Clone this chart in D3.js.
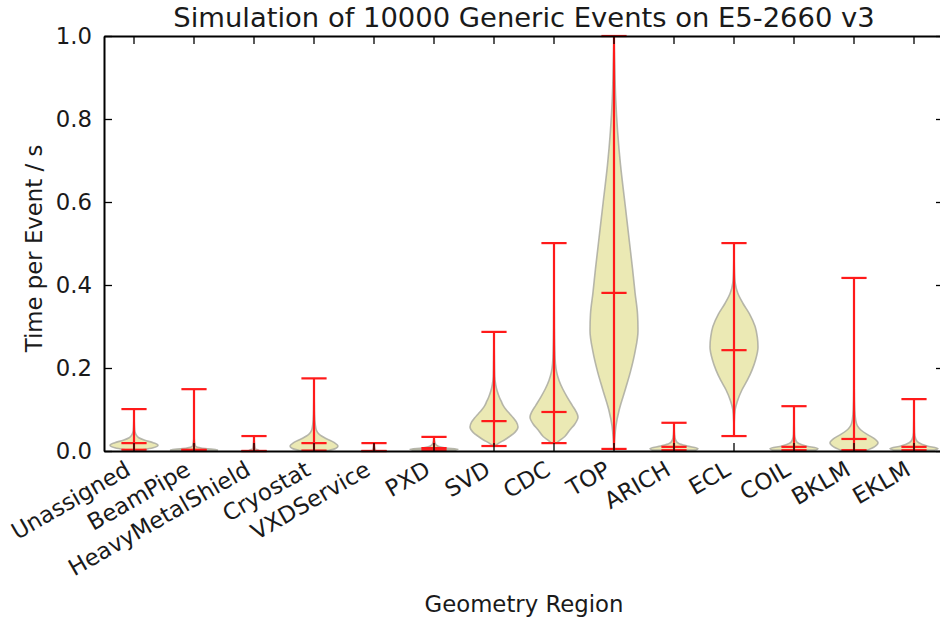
<!DOCTYPE html>
<html>
<head>
<meta charset="utf-8">
<script src="https://cdn.jsdelivr.net/npm/d3@7"></script>
<style>
  html, body { margin: 0; padding: 0; background: #fff; }
  svg { display: block; font-family: "DejaVu Sans", sans-serif; }
</style>
</head>
<body>
<svg id="chart" width="940" height="623"></svg>
<script>
// Geometry regions along the x axis
const categories = ["Unassigned", "BeamPipe", "HeavyMetalShield", "Cryostat", "VXDService", "PXD",
  "SVD", "CDC", "TOP", "ARICH", "ECL", "COIL", "BKLM", "EKLM"];

// Per-region time per event (s): extremes and middle marker
const minTimes    = [0.003, 0.002, 0.000, 0.001, 0.000, 0.002, 0.012, 0.019, 0.005, 0.002, 0.036, 0.002, 0.002, 0.002];
const medianTimes = [0.019, 0.003, 0.000, 0.019, 0.000, 0.007, 0.072, 0.094, 0.381, 0.010, 0.243, 0.010, 0.029, 0.010];
const maxTimes    = [0.101, 0.149, 0.036, 0.175, 0.019, 0.034, 0.287, 0.501, 1.000, 0.068, 0.501, 0.108, 0.417, 0.125];

// Density outline of each violin: [time, relative half-width]
const profiles = [
  [[0.003,0.35],[0.008,0.8],[0.014,1],[0.02,0.8],[0.026,0.45],[0.032,0.2],[0.04,0.08],[0.05,0.03],[0.07,0.01],[0.101,0]],
  [[0.002,1],[0.004,0.8],[0.007,0.3],[0.012,0.06],[0.03,0.01],[0.149,0]],
  [[0.0,0.15],[0.002,0.2],[0.005,0.05],[0.036,0]],
  [[0.001,0.6],[0.006,0.9],[0.012,1],[0.02,0.85],[0.03,0.5],[0.04,0.22],[0.05,0.1],[0.065,0.05],[0.09,0.02],[0.12,0.01],[0.175,0]],
  [[0.0,0.1],[0.003,0.05],[0.019,0]],
  [[0.002,0.9],[0.004,1],[0.007,0.5],[0.012,0.15],[0.02,0.04],[0.034,0]],
  [[0.012,0.03],[0.019,0.2],[0.027,0.45],[0.035,0.65],[0.045,0.87],[0.058,1],[0.07,0.93],[0.08,0.8],[0.09,0.65],[0.1,0.5],[0.11,0.38],[0.12,0.3],[0.13,0.22],[0.145,0.13],[0.16,0.07],[0.18,0.03],[0.22,0.015],[0.287,0]],
  [[0.019,0.1],[0.026,0.25],[0.035,0.45],[0.05,0.65],[0.065,0.87],[0.082,1],[0.095,0.92],[0.11,0.76],[0.13,0.55],[0.15,0.36],[0.17,0.21],[0.19,0.11],[0.21,0.06],[0.25,0.03],[0.3,0.015],[0.4,0.005],[0.501,0]],
  [[0.005,0],[0.03,0.03],[0.06,0.08],[0.1,0.22],[0.15,0.48],[0.19,0.68],[0.24,0.88],[0.29,1],[0.33,0.98],[0.38,0.88],[0.44,0.77],[0.5,0.65],[0.6,0.45],[0.69,0.27],[0.77,0.15],[0.85,0.07],[0.93,0.03],[1.0,0]],
  [[0.002,0.9],[0.006,1],[0.012,0.55],[0.018,0.2],[0.025,0.08],[0.04,0.02],[0.068,0]],
  [[0.036,0],[0.07,0.01],[0.1,0.05],[0.12,0.14],[0.147,0.33],[0.17,0.55],[0.195,0.75],[0.22,0.9],[0.25,1],[0.275,0.97],[0.3,0.88],[0.33,0.65],[0.356,0.37],[0.38,0.16],[0.405,0.05],[0.44,0.015],[0.501,0]],
  [[0.002,0.9],[0.006,1],[0.012,0.5],[0.018,0.2],[0.025,0.08],[0.04,0.02],[0.108,0]],
  [[0.002,0.55],[0.01,0.85],[0.02,1],[0.03,0.85],[0.04,0.55],[0.05,0.3],[0.06,0.15],[0.075,0.07],[0.1,0.03],[0.15,0.01],[0.417,0]],
  [[0.002,0.85],[0.006,1],[0.012,0.55],[0.02,0.2],[0.028,0.08],[0.045,0.02],[0.125,0]]
];

const yTicks = [0.0, 0.2, 0.4, 0.6, 0.8, 1.0];

const svg = d3.select("#chart");
const margin = { left: 104, top: 36, right: 944, bottom: 451 };

const x = d3.scaleBand().domain(categories).range([margin.left, margin.right]).padding(0);
const y = d3.scaleLinear().domain([0, 1]).range([margin.bottom, margin.top]);

const bw = x.bandwidth();
const halfViolin = bw * 0.4;
const halfCap = bw * 0.21;
const cx = c => x(c) + bw / 2;

const labelSize = 22.8;
const textColor = "#1a1a1a";

const plot = svg.append("g");

// Violin bodies
categories.forEach((c, i) => {
  const area = d3.area()
    .y(d => y(d[0]))
    .x0(d => cx(c) - d[1] * halfViolin)
    .x1(d => cx(c) + d[1] * halfViolin)
    .curve(d3.curveMonotoneY);
  plot.append("path")
    .attr("d", area(profiles[i]))
    .attr("fill", "#ebe9b4")
    .attr("stroke", "#aaaaa0")
    .attr("stroke-opacity", 0.85)
    .attr("stroke-width", 1.6);
});

// Range bars with caps at min, middle and max
const red = "#ff1a1a";
categories.forEach((c, i) => {
  const g = plot.append("g").attr("stroke", red).attr("stroke-width", 2.2);
  g.append("line").attr("x1", cx(c)).attr("x2", cx(c))
    .attr("y1", y(minTimes[i])).attr("y2", y(maxTimes[i]));
  [minTimes[i], medianTimes[i], maxTimes[i]].forEach(v => {
    g.append("line").attr("x1", cx(c) - halfCap).attr("x2", cx(c) + halfCap)
      .attr("y1", y(v)).attr("y2", y(v));
  });
});

// Axes: inward ticks on all four sides
const tickLen = 8;
const axisStyle = g => {
  g.selectAll(".domain").attr("stroke", "#000").attr("stroke-width", 2);
  g.selectAll(".tick line").attr("stroke", "#000").attr("stroke-width", 1.3);
  g.selectAll("text").attr("font-family", "DejaVu Sans").attr("font-size", labelSize).attr("fill", textColor);
};

const xAxis = svg.append("g").attr("transform", `translate(0,${margin.bottom})`)
  .call(d3.axisBottom(x).tickSizeInner(-tickLen).tickSizeOuter(0).tickPadding(0))
  .call(axisStyle);
xAxis.selectAll(".tick text")
  .attr("y", 0).attr("dy", 0)
  .attr("text-anchor", "end")
  .attr("transform", "translate(-2,23) rotate(-30)");

svg.append("g").attr("transform", `translate(0,${margin.top})`)
  .call(d3.axisTop(x).tickSizeInner(-tickLen).tickSizeOuter(0).tickFormat(""))
  .call(axisStyle);

svg.append("g").attr("transform", `translate(${margin.left},0)`)
  .call(d3.axisLeft(y).tickValues(yTicks).tickFormat(d3.format(".1f"))
    .tickSizeInner(-tickLen).tickSizeOuter(0).tickPadding(12))
  .call(axisStyle);

svg.append("g").attr("transform", `translate(${margin.right},0)`)
  .call(d3.axisRight(y).tickValues(yTicks).tickFormat("")
    .tickSizeInner(-tickLen).tickSizeOuter(0))
  .call(axisStyle);

// Titles
const midX = (margin.left + margin.right) / 2;
svg.append("text").attr("x", midX).attr("y", 27).attr("text-anchor", "middle")
  .attr("font-size", 27.4).attr("fill", textColor)
  .text("Simulation of 10000 Generic Events on E5-2660 v3");

svg.append("text").attr("x", midX).attr("y", 612).attr("text-anchor", "middle")
  .attr("font-size", labelSize).attr("fill", textColor)
  .text("Geometry Region");

svg.append("text")
  .attr("transform", `translate(42,${(margin.top + margin.bottom) / 2 + 5}) rotate(-90)`)
  .attr("text-anchor", "middle")
  .attr("font-size", labelSize).attr("fill", textColor)
  .text("Time per Event / s");
</script>
</body>
</html>
